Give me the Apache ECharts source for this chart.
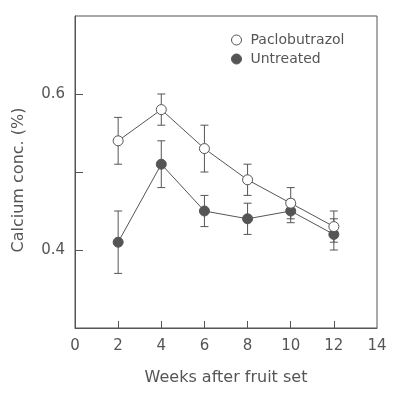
<!DOCTYPE html>
<html><head><meta charset="utf-8">
<script src="https://cdn.jsdelivr.net/npm/echarts@6/dist/echarts.min.js"></script>
<style>html,body{margin:0;padding:0;background:#fff}#c{width:398px;height:395px}</style>
</head><body><div id="c"></div>
<script>
var weeks = [2, 4, 6, 8, 10, 12];
var pacloMean = [0.54, 0.58, 0.53, 0.49, 0.46, 0.43];
var pacloErr = [0.03, 0.02, 0.03, 0.02, 0.02, 0.02];
var untrMean = [0.41, 0.51, 0.45, 0.44, 0.45, 0.42];
var untrErr = [0.04, 0.03, 0.02, 0.02, 0.015, 0.02];
var xTicks = [0, 2, 4, 6, 8, 10, 12, 14];
var yLabels = [0.4, 0.6];

var ink = '#555';
var font = 'DejaVu Sans';
function pts(m){ return weeks.map(function(w,i){return [w, m[i]];}); }
function errs(m,e){ return weeks.map(function(w,i){return [w, m[i]-e[i], m[i]+e[i]];}); }
function errRender(params, api){
  var x = api.value(0), lo = api.value(1), hi = api.value(2);
  var pl = api.coord([x, lo]), ph = api.coord([x, hi]);
  var hw = 4;
  var st = {stroke: ink, lineWidth: 1};
  return {type:'group', children:[
    {type:'line', shape:{x1:pl[0],y1:pl[1],x2:ph[0],y2:ph[1]}, style:st},
    {type:'line', shape:{x1:pl[0]-hw,y1:pl[1],x2:pl[0]+hw,y2:pl[1]}, style:st},
    {type:'line', shape:{x1:ph[0]-hw,y1:ph[1],x2:ph[0]+hw,y2:ph[1]}, style:st}
  ]};
}
var chart = echarts.init(document.getElementById('c'));
chart.setOption({
  animation:false,
  backgroundColor:'#fff',
  textStyle:{fontFamily:font, color:ink},
  grid:{left:75, right:21, top:16, bottom:67, show:true, borderColor:ink, borderWidth:1,
    backgroundColor:'transparent', containLabel:false, outerBoundsMode:'none'},
  legend:{
    orient:'vertical', left:226, top:28, itemGap:5, itemWidth:10, itemHeight:10,
    textStyle:{fontFamily:font, fontSize:14, color:ink, padding:[0,0,0,4]},
    data:[
      {name:'Paclobutrazol', icon:'circle', itemStyle:{color:'#fff', borderColor:ink, borderWidth:1}},
      {name:'Untreated', icon:'circle', itemStyle:{color:ink, borderColor:ink, borderWidth:1}}
    ]
  },
  xAxis:{
    type:'value', min:0, max:14, interval:2,
    name:'Weeks after fruit set', nameLocation:'middle', nameGap:42,
    nameTextStyle:{fontFamily:font, fontSize:16, color:ink},
    axisLine:{show:true, lineStyle:{color:ink}},
    axisTick:{show:true, inside:true, length:7, lineStyle:{color:ink},
      customValues:[2,4,6,8,10,12]},
    axisLabel:{fontFamily:font, fontSize:15, color:ink, margin:11,
      customValues: xTicks},
    splitLine:{show:false}
  },
  yAxis:{
    type:'value', min:0.3, max:0.7, interval:0.1,
    name:'Calcium conc. (%)', nameLocation:'middle', nameGap:48,
    nameTextStyle:{fontFamily:font, fontSize:16, color:ink, padding:[0,16,0,0]},
    axisLine:{show:true, lineStyle:{color:ink}},
    axisTick:{show:true, inside:true, length:8, lineStyle:{color:ink},
      customValues:[0.4,0.5,0.6]},
    axisLabel:{fontFamily:font, fontSize:15, color:ink, margin:10,
      customValues: yLabels, formatter:function(v){return v.toFixed(1);}},
    splitLine:{show:false}
  },
  series:[
    {type:'custom', name:'pErr', renderItem:errRender, data:errs(pacloMean,pacloErr), z:2, silent:true, encode:{x:0,y:[1,2]}},
    {type:'custom', name:'uErr', renderItem:errRender, data:errs(untrMean,untrErr), z:2, silent:true, encode:{x:0,y:[1,2]}},
    {type:'line', name:'Paclobutrazol', data:pts(pacloMean), symbol:'circle', symbolSize:10, z:4,
      lineStyle:{color:ink, width:1}, itemStyle:{color:'#fff', borderColor:ink, borderWidth:1}},
    {type:'line', name:'Untreated', data:pts(untrMean), symbol:'circle', symbolSize:10, z:3,
      lineStyle:{color:ink, width:1}, itemStyle:{color:ink, borderColor:ink, borderWidth:1}}
  ]
});
</script></body></html>
